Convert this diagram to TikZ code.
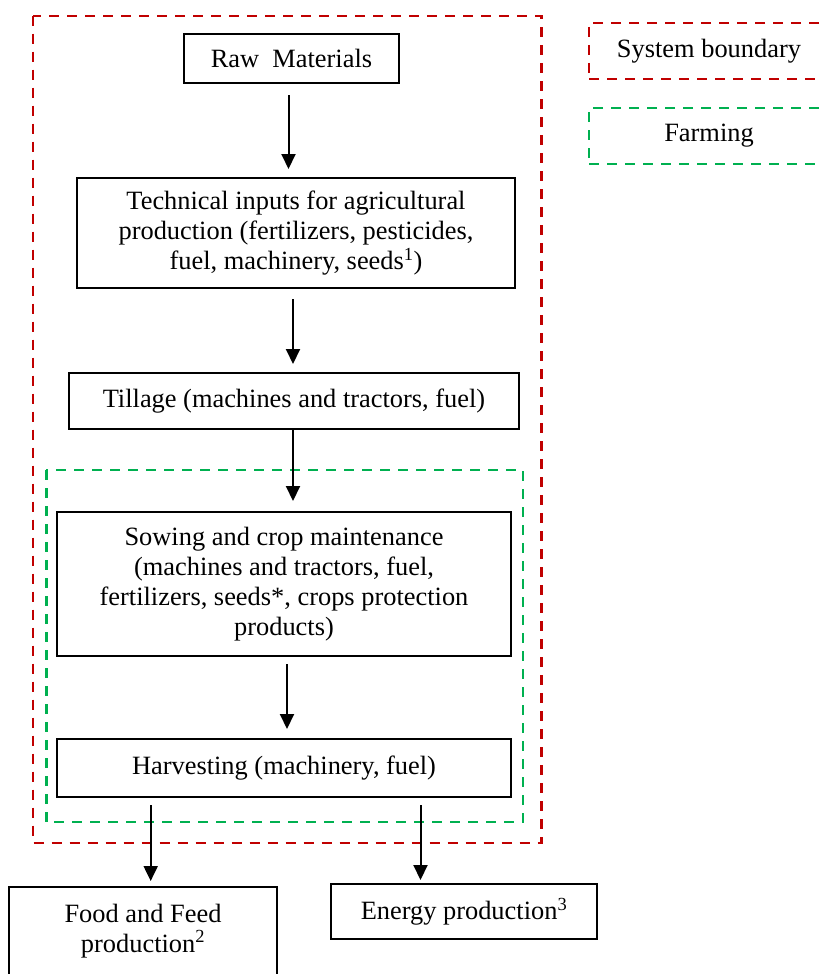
\documentclass[tikz,border=0pt]{standalone}
\usepackage{fontspec}
\setmainfont{Liberation Serif}
\usetikzlibrary{arrows.meta}
\definecolor{boundred}{HTML}{C00000}
\definecolor{farmgreen}{HTML}{00B050}
\begin{document}
\begin{tikzpicture}[x=1pt,y=-1pt,
  every node/.style={font=\fontsize{26.4}{30}\selectfont},
  stage/.style={draw=black, line width=2pt, align=center, inner sep=0pt},
  flow/.style={line width=2pt, -{Triangle[width=14pt,length=15pt]}},
  redzone/.style={draw=boundred, line width=2.3pt, dash pattern=on 10pt off 8pt},
  greenzone/.style={draw=farmgreen, line width=2.3pt, dash pattern=on 10pt off 8pt}]
\useasboundingbox (0,0) rectangle (822,974);
\clip (0,0) rectangle (822,974);

% system boundary and farming area
\draw[redzone] (33,15.7) rectangle (541.5,843);
\draw[greenzone] (46.4,470) rectangle (523,822);

% legend
\node[redzone, minimum width=240pt, minimum height=56pt] (legsys) at (709,51) {System boundary};
\node[greenzone, minimum width=240pt, minimum height=56pt] (legfarm) at (709,136) {Farming};

% process stages
\node[stage, minimum width=215pt, minimum height=49pt] (raw) at (291.5,58.5) {Raw\ \ Materials};
\node[stage, minimum width=438pt, minimum height=110pt] (tech) at (296,233)
  {Technical inputs for agricultural\\production (fertilizers, pesticides,\\fuel, machinery, seeds\textsuperscript{1})};
\node[stage, minimum width=450pt, minimum height=56pt] (till) at (294,401)
  {Tillage (machines and tractors, fuel)};
\node[stage, minimum width=454pt, minimum height=144pt] (sow) at (284,584)
  {Sowing and crop maintenance\\(machines and tractors, fuel,\\fertilizers, seeds*, crops protection\\products)};
\node[stage, minimum width=454pt, minimum height=58pt] (harv) at (284,768)
  {Harvesting (machinery, fuel)};
\node[stage, anchor=north, minimum width=268pt, inner ysep=17pt, text height=48pt, text depth=22pt]
  (food) at (143,886) {Food and Feed\\production\textsuperscript{2}};
\node[stage, minimum width=266pt, minimum height=55pt] (energy) at (464,911.5)
  {Energy production\textsuperscript{3}};

% flows
\draw[flow, shorten <=11pt, shorten >=8pt] ([xshift=-3pt]raw.south) -- ([xshift=-3pt]raw.south |- tech.north);
\draw[flow, shorten <=10pt, shorten >=8pt] ([xshift=-3pt]tech.south) -- ([xshift=-3pt]tech.south |- till.north);
\draw[flow, shorten >=10pt] ([xshift=-1pt]till.south) -- ([xshift=-1pt]till.south |- sow.north);
\draw[flow, shorten <=7pt, shorten >=9pt] ([xshift=3pt]sow.south) -- ([xshift=3pt]sow.south |- harv.north);
\draw[flow, shorten <=7pt, shorten >=5pt] ([xshift=-133.3pt]harv.south) -- ([xshift=-133.3pt]harv.south |- food.north);
\draw[flow, shorten <=7pt, shorten >=3pt] ([xshift=136.5pt]harv.south) -- ([xshift=136.5pt]harv.south |- energy.north);
\end{tikzpicture}
\end{document}
